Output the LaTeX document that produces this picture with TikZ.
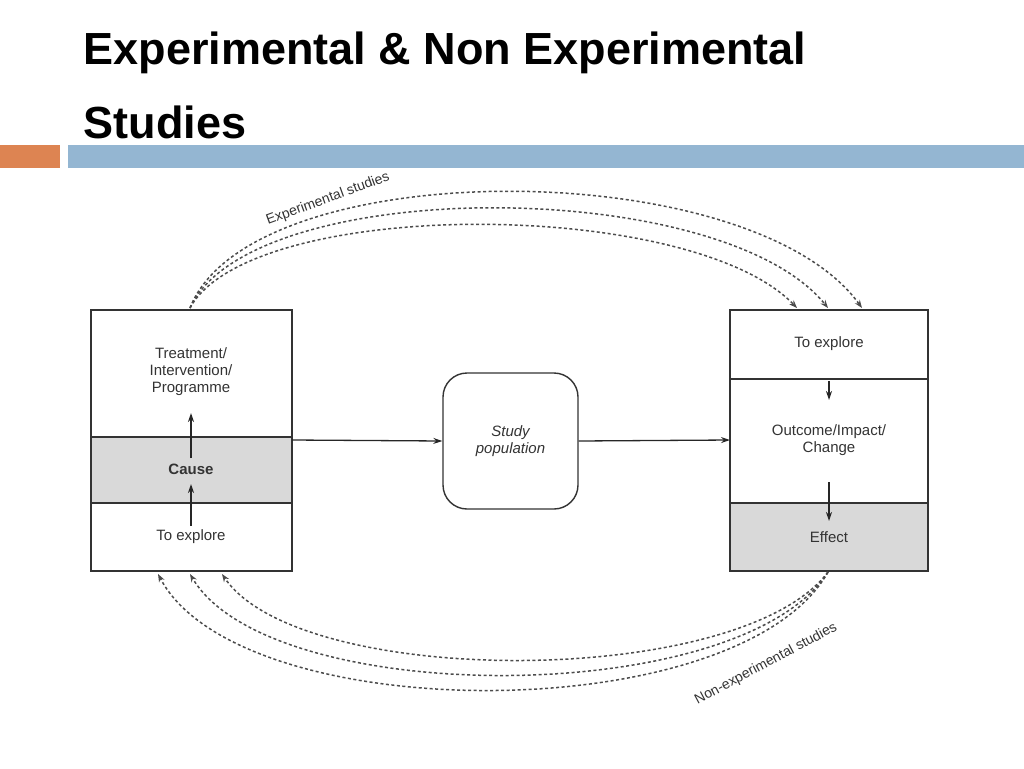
\documentclass[tikz,border=0pt]{standalone}
\usepackage{fontspec}
\setmainfont{Liberation Sans}
\usetikzlibrary{arrows.meta}
\definecolor{orng}{HTML}{DD8452}
\definecolor{blu}{HTML}{94B6D2}
\definecolor{txt}{HTML}{333333}
\begin{document}
\begin{tikzpicture}[x=1pt,y=-1pt,
  lbl/.style={font=\fontsize{15}{17}\selectfont,text=txt,align=center},
  arr/.style={-{Stealth[length=9pt,width=6pt]},black!85,line width=1.3pt},
  dsh/.style={dash pattern=on 3pt off 2.5pt,black!70,line width=1.5pt,-{Stealth[length=8pt,width=6pt]}}]
\useasboundingbox (0,0) rectangle (1024,768);
\node[anchor=base west,font=\fontsize{45}{50}\selectfont\bfseries] (t1) at (80,64) {Experimental \& Non Experimental};
\node[anchor=base west,font=\fontsize{45}{50}\selectfont\bfseries] (t2) at (80,138) {Studies};
\fill[orng] (0,145) rectangle (60,168);
\fill[blu] (68,145) rectangle (1024,168);
% left box
\fill[black!15] (91,437) rectangle (292,503);
\draw[black!80,line width=1.4pt] (91,310) rectangle (292,571);
\draw[black!80,line width=1.2pt] (91,437) -- (292,437) (91,503) -- (292,503);
\node[lbl] (treat) at (191,372) {Treatment/\\Intervention/\\Programme};
\node[lbl,font=\fontsize{15}{17}\selectfont\bfseries] (cause) at (191,469) {Cause};
\node[lbl] (lexp) at (191,537) {To explore};
\draw[arr] (191,526) -- (191,484);
\draw[arr] (191,458) -- (191,413);
% right box
\fill[black!15] (730,503) rectangle (928,571);
\draw[black!80,line width=1.4pt] (730,310) rectangle (928,571);
\draw[black!80,line width=1.2pt] (730,379) -- (928,379) (730,503) -- (928,503);
\node[lbl] (rexp) at (829,344) {To explore};
\node[lbl] (out) at (829,440) {Outcome/Impact/\\Change};
\node[lbl] (eff) at (829,537) {Effect};
\draw[arr] (829,381) -- (829,400);
\draw[arr] (829,482) -- (829,521);
% study
\node[draw=black!80,line width=1.4pt,rounded corners=24pt,minimum width=135pt,minimum height=136pt,lbl,font=\fontsize{15}{17}\selectfont\itshape] (study) at (510.5,441) {Study\\population};
\coordinate (la) at (292,440);
\coordinate (ra) at (730,440);
\draw[arr] (la) -- (study.west);
\draw[arr] (study.east) -- (ra);
% top arcs
\coordinate (ts) at (190,308);
\draw[dsh] (ts) .. controls (250,197) and (690,197) .. (797,308);
\draw[dsh] (ts) .. controls (250,175) and (720,175) .. (828,308);
\draw[dsh] (ts) .. controls (250,153) and (750,153) .. (862,308);
\node[lbl,rotate=20,font=\fontsize{14}{16}\selectfont] (el) at (328,199) {Experimental studies};
% bottom arcs
\coordinate (bs) at (828,572);
\draw[dsh] (bs) .. controls (740,689) and (300,689) .. (222,574);
\draw[dsh] (bs) .. controls (740,709) and (270,709) .. (190,574);
\draw[dsh] (bs) .. controls (740,729) and (240,729) .. (158,574);
\node[lbl,rotate=28,font=\fontsize{14}{16}\selectfont] (nl) at (766,664) {Non-experimental studies};
\end{tikzpicture}
\end{document}
